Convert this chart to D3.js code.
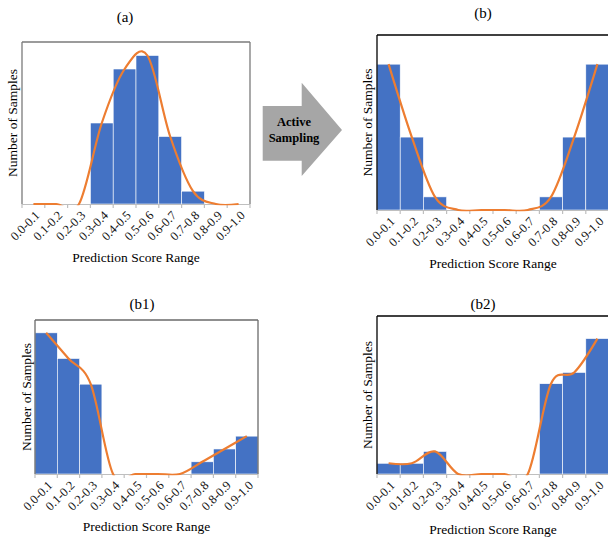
<!DOCTYPE html>
<html>
<head>
<meta charset="utf-8">
<script src="https://cdn.jsdelivr.net/npm/d3@7"></script>
<style>
html,body{margin:0;padding:0;background:#fff;}
svg{display:block;font-family:"Liberation Serif","Times New Roman",serif;}
</style>
</head>
<body>
<svg id="chart" width="608" height="541"></svg>
<script>
// ---- data ----
const categories = ["0.0-0.1","0.1-0.2","0.2-0.3","0.3-0.4","0.4-0.5","0.5-0.6","0.6-0.7","0.7-0.8","0.8-0.9","0.9-1.0"];
const valuesA  = [0, 0, 0, 6, 10, 11, 5, 0.95, 0, 0];
const valuesB  = [10, 5, 0.9, 0, 0, 0, 0, 0.9, 5, 10];
const valuesB1 = [11, 9, 7, 0, 0, 0, 0, 0.95, 1.95, 2.95];
const valuesB2 = [0.95, 0.95, 2, 0, 0, 0, 0, 8, 9, 12];
const panelTitles = ["(a)", "(b)", "(b1)", "(b2)"];
const xAxisTitle = "Prediction Score Range";
const yAxisTitle = "Number of Samples";
const arrowText = ["Active", "Sampling"];

const svg = d3.select("#chart");

const panels = [
  {id:"a",  values:valuesA,  yMax:12, left:22,  right:250, top:42,  bottom:204, frame:"#7a7a7a", rightBorder:true,
   title:panelTitles[0], tx:125, ty:22,  xlY:262, ylX:17},
  {id:"b",  values:valuesB,  yMax:12, left:377, right:609, top:35,  bottom:210, frame:"#000", rightBorder:false,
   title:panelTitles[1], tx:483, ty:18,  xlY:268, ylX:372},
  {id:"b1", values:valuesB1, yMax:12, left:35,  right:258, top:320, bottom:474, frame:"#6a6a6a", rightBorder:true,
   title:panelTitles[2], tx:142, ty:309, xlY:531, ylX:31},
  {id:"b2", values:valuesB2, yMax:14, left:377, right:609, top:316, bottom:474, frame:"#000", rightBorder:false,
   title:panelTitles[3], tx:483, ty:309, xlY:534, ylX:372}
];

panels.forEach(p => {
  const x = d3.scaleBand().domain(categories).range([p.left, p.right]).padding(0);
  const y = d3.scaleLinear().domain([0, p.yMax]).range([p.bottom, p.top]);
  const bw = x.bandwidth();
  const g = svg.append("g");

  const clipId = "clip-" + p.id;
  svg.append("clipPath").attr("id", clipId)
    .append("rect").attr("x", p.left - 2).attr("y", p.top).attr("width", p.right - p.left + 4).attr("height", p.bottom - p.top + 1.2);

  g.selectAll("rect.bar").data(categories.map((c,i)=>({c, v:p.values[i]})).filter(d=>d.v>0))
    .enter().append("rect")
    .attr("x", d => x(d.c))
    .attr("y", d => y(d.v))
    .attr("width", bw)
    .attr("height", d => y(0) - y(d.v))
    .attr("fill", "#4472C4")
    .attr("stroke", "#ffffff")
    .attr("stroke-width", 0.6);

  const fr = g.append("g").attr("stroke", p.frame).attr("stroke-width", 1.3).attr("fill","none");
  fr.append("line").attr("x1", p.left).attr("x2", p.left).attr("y1", p.top).attr("y2", p.bottom);
  fr.append("line").attr("x1", p.left).attr("x2", p.right).attr("y1", p.top).attr("y2", p.top);
  if (p.rightBorder) fr.append("line").attr("x1", p.right).attr("x2", p.right).attr("y1", p.top).attr("y2", p.bottom);

  const ax = g.append("g").attr("stroke", "#bfbfbf").attr("stroke-width", 1.2);
  ax.append("line").attr("x1", p.left).attr("x2", p.right).attr("y1", p.bottom+0.5).attr("y2", p.bottom+0.5);
  const edges = categories.map(c => x(c)).concat([p.right]);
  ax.selectAll("line.tk").data(edges).enter().append("line")
    .attr("x1", d=>d).attr("x2", d=>d).attr("y1", p.bottom).attr("y2", p.bottom+4);

  g.selectAll("text.tl").data(categories).enter().append("text")
    .attr("transform", c => `translate(${x(c)+bw/2+4},${p.bottom+9}) rotate(-45)`)
    .attr("text-anchor", "end")
    .attr("dy", "0.35em")
    .attr("font-size", 12.5)
    .attr("fill", "#111")
    .text(c => c);

  const line = d3.line()
    .x((d,i) => x(categories[i]) + bw/2)
    .y(d => y(d))
    .curve(d3.curveCardinal.tension(0));
  g.append("path").datum(p.values)
    .attr("d", line)
    .attr("fill", "none")
    .attr("stroke", "#ED7D31")
    .attr("stroke-width", 2.2)
    .attr("clip-path", `url(#${clipId})`);

  g.append("text").attr("x", p.tx).attr("y", p.ty).attr("text-anchor","middle").attr("font-size", 15).attr("fill","#000").text(p.title);
  g.append("text").attr("x", (p.left + Math.min(p.right, 609))/2).attr("y", p.xlY).attr("text-anchor","middle").attr("font-size", 13.5).attr("fill","#000").text(xAxisTitle);
  g.append("text").attr("transform", `translate(${p.ylX},${(p.top+p.bottom)/2}) rotate(-90)`)
    .attr("text-anchor","middle").attr("font-size", 13.5).attr("fill","#000").text(yAxisTitle);
});

const arrowPts = [[262.7,106],[301.7,106],[301.7,82.7],[342,130],[301.7,176],[301.7,160.7],[262.7,160.7]];
svg.append("polygon").attr("points", arrowPts.map(p=>p.join(",")).join(" ")).attr("fill", "#a6a6a6");
svg.append("text").attr("x", 294).attr("y", 126).attr("text-anchor","middle").attr("font-weight","bold").attr("font-size", 12.5).attr("fill","#000").text(arrowText[0]);
svg.append("text").attr("x", 294).attr("y", 142).attr("text-anchor","middle").attr("font-weight","bold").attr("font-size", 12.5).attr("fill","#000").text(arrowText[1]);
</script>
</body>
</html>
